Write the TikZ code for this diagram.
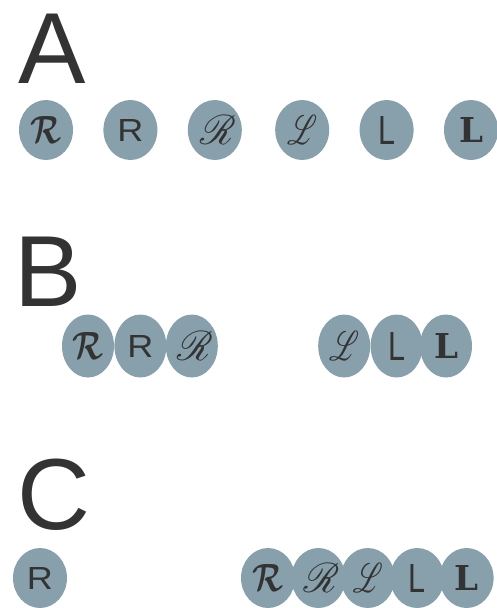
\documentclass[tikz,border=0pt]{standalone}
\usepackage{fontspec}
\setsansfont{Liberation Sans}
\newfontfamily\slabfont{DejaVu Serif}
\usepackage{mathrsfs}
\usepackage{graphicx}
\usetikzlibrary{positioning,shapes.geometric}
\definecolor{discgray}{HTML}{87A0AC}
\definecolor{ink}{HTML}{333333}
% the six letter forms, sized to fit the discs
\newcommand{\glyphCalR}{\resizebox{31pt}{27pt}{\boldmath$\mathcal{R}$}}
\newcommand{\glyphSansR}{\resizebox{26pt}{22pt}{\sffamily R}}
\newcommand{\glyphScrR}{\resizebox{36pt}{29pt}{$\mathscr{R}$}}
\newcommand{\glyphScrL}{\resizebox{30pt}{29pt}{$\mathscr{L}$}}
\newcommand{\glyphSansL}{\resizebox{17pt}{28pt}{\sffamily L}}
\newcommand{\glyphSlabL}{\resizebox{24pt}{25pt}{\slabfont\bfseries L}}

\begin{document}
\begin{tikzpicture}[x=1pt, y=-1pt,
    panel/.style={anchor=base west, inner sep=0pt, text=ink, font=\sffamily\fontsize{101}{101}\selectfont},
    disc/.style={ellipse, fill=discgray, inner sep=0pt, minimum width=54pt, minimum height=60pt},
    tall/.style={minimum width=52pt, minimum height=63pt},
    every label/.style={text=ink, inner sep=0pt}
]
  \useasboundingbox (0,0) rectangle (496,608);

  % Panel letters
  \node (labA) [panel] at (18,83) {A};
  \node (labB) [panel] at (14,306) {B};
  \node (labC) [panel] at (17,529) {C};

  % Row A: all apart
  \node (a1) [disc, label=center:\glyphCalR] at (46,130) {};
  \node (a2) [disc, label=center:\glyphSansR, right=30pt of a1] {};
  \node (a3) [disc, label={[xshift=3pt]center:\glyphScrR}, right=30pt of a2] {};
  \node (a4) [disc, label=center:\glyphScrL, right=33pt of a3] {};
  \node (a5) [disc, label=center:\glyphSansL, right=30pt of a4] {};
  \node (a6) [disc, label=center:\glyphSlabL, right=30pt of a5] {};

  % Row B: two groups of three
  \node (b1) [disc, tall, label=center:\glyphCalR] at (88,346) {};
  \node (b2) [disc, tall, label=center:\glyphSansR, right=0pt of b1] {};
  \node (b3) [disc, tall, label={[xshift=3pt]center:\glyphScrR}, right=-1pt of b2] {};
  \node (b4) [disc, tall, label=center:\glyphScrL, right=100pt of b3] {};
  \node (b5) [disc, tall, label=center:\glyphSansL, right=0pt of b4] {};
  \node (b6) [disc, tall, label=center:\glyphSlabL, right=-3pt of b5] {};

  % Row C: one alone, five packed
  \node (c1) [disc, label=center:\glyphSansR] at (40,578) {};
  \node (c2) [disc, label=center:\glyphCalR] at (268,578) {};
  \node (c3) [disc, label={[xshift=3pt]center:\glyphScrR}, right=-4pt of c2] {};
  \node (c4) [disc, label=center:\glyphScrL, right=-5pt of c3] {};
  \node (c5) [disc, label=center:\glyphSansL, right=-5pt of c4] {};
  \node (c6) [disc, label=center:\glyphSlabL, right=-5pt of c5] {};
\end{tikzpicture}
\end{document}
